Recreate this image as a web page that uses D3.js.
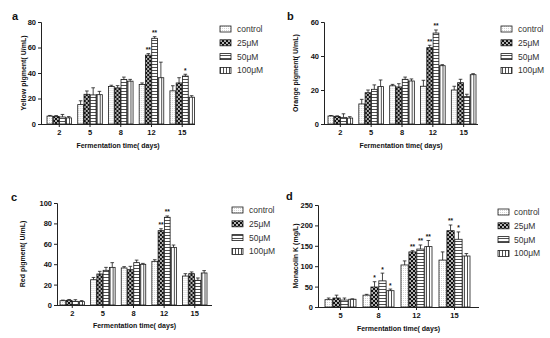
<!DOCTYPE html>
<html>
<head>
<meta charset="utf-8">
<script src="https://cdn.jsdelivr.net/npm/d3@7"></script>
<style>
  body { margin: 0; background: #fff; }
  svg { display: block; font-family: "Liberation Sans", Arial, sans-serif; }
</style>
</head>
<body>
<svg id="fig" width="550" height="338"></svg>
<script>
// groups and series
var series = ['control', '25\u03bcM', '50\u03bcM', '100\u03bcM'];
var daysPigment = ['2', '5', '8', '12', '15'];
var daysMonacolin = ['5', '8', '12', '15'];

// yellow pigment (U/mL), one row per day: control, 25, 50, 100
var yellowMean = [[6.2, 6, 5.5, 4.8], [15.2, 23.3, 22.8, 23], [29.4, 28.3, 35, 33.6], [31, 54, 67.2, 36.3], [26, 32.2, 37.6, 21]];
var yellowSd   = [[0.5, 0.6, 2, 1], [3, 2.6, 5.6, 2.6], [1, 1.8, 1.8, 1.4], [1.2, 1.2, 1.3, 12.2], [4, 4.1, 1.4, 1.2]];
var yellowStars = [['', '', '', ''], ['', '', '', ''], ['', '', '', ''], ['', '**', '**', ''], ['', '', '*', '']];

// orange pigment (U/mL)
var orangeMean = [[4.7, 4.4, 3.9, 3.5], [11.8, 18.4, 20.4, 22], [22.5, 21.8, 26.3, 25.3], [22.2, 44.9, 53.5, 34.3], [20, 24.3, 16.1, 29]];
var orangeSd   = [[0.3, 0.4, 2.1, 0.8], [2.7, 1.6, 2.6, 3.9], [0.8, 1.9, 1.3, 1.2], [3.5, 1.4, 1.8, 0.6], [2.2, 2, 1.4, 0.6]];
var orangeStars = [['', '', '', ''], ['', '', '', ''], ['', '', '', ''], ['', '**', '**', ''], ['', '', '', '']];

// red pigment (U/mL)
var redMean = [[4.2, 4.6, 3.6, 3.3], [24.8, 30.4, 34, 36.9], [36.3, 34.6, 41.5, 39.9], [42.8, 72.9, 86, 56.5], [28.4, 30.7, 24.2, 31.4]];
var redSd   = [[0.6, 0.8, 1.6, 1], [2.2, 2.6, 2.9, 4.6], [1.3, 3.3, 2.5, 0.9], [1.6, 1.9, 1.3, 2.3], [2.3, 1.7, 2.3, 2.3]];
var redStars = [['', '', '', ''], ['', '', '', ''], ['', '', '', ''], ['', '**', '**', ''], ['', '', '', '']];

// monacolin K (mg/L)
var monaMean = [[18, 22, 17, 19], [29, 49, 64, 40], [103, 135, 142, 148], [115, 187, 166, 125]];
var monaSd   = [[4, 7, 5, 1], [2, 13, 19, 4], [10, 3, 10, 15], [20, 14, 18, 6]];
var monaStars = [['', '', '', ''], ['', '*', '*', '*'], ['', '**', '**', '**'], ['', '**', '*', '']];

var panels = [
  { tag: 'a', days: daysPigment, mean: yellowMean, sd: yellowSd, stars: yellowStars,
    yLabel: 'Yellow pigment( U/mL)', yMax: 80, yStep: 20,
    left: 41, top: 22, bottom: 124, axisLen: 154, band: [6, 153.5], pad: 0.2,
    yLabelX: 24, titleX: 12, titleY: 20, legX: 220, legTextX: 237, legY: 29, xLabelY: 148 },
  { tag: 'b', days: daysPigment, mean: orangeMean, sd: orangeSd, stars: orangeStars,
    yLabel: 'Orange pigment( U/mL)', yMax: 60, yStep: 20,
    left: 324, top: 22, bottom: 124, axisLen: 154, band: [4, 152], pad: 0.2,
    yLabelX: 296, titleX: 287, titleY: 20, legX: 501, legTextX: 518, legY: 29, xLabelY: 148 },
  { tag: 'c', days: daysPigment, mean: redMean, sd: redSd, stars: redStars,
    yLabel: 'Red pigment( U/mL)', yMax: 100, yStep: 20,
    left: 57, top: 203, bottom: 305, axisLen: 155, band: [3, 150], pad: 0.2,
    yLabelX: 23, titleX: 11, titleY: 201, legX: 232, legTextX: 249, legY: 210, xLabelY: 328 },
  { tag: 'd', days: daysMonacolin, mean: monaMean, sd: monaSd, stars: monaStars,
    yLabel: 'Monacolin K (mg/L)', yMax: 250, yStep: 50,
    left: 318, top: 205, bottom: 307, axisLen: 161, band: [7, 152], pad: 0.184,
    yLabelX: 296, titleX: 286, titleY: 200, legX: 498, legTextX: 514, legY: 212, xLabelY: 331 }
];

var svg = d3.select('#fig');
var defs = svg.append('defs');

// fill patterns for the four treatments
var p0 = defs.append('pattern').attr('id', 'pat0').attr('patternUnits', 'userSpaceOnUse')
  .attr('width', 2).attr('height', 2);
p0.append('rect').attr('width', 2).attr('height', 2).attr('fill', '#fff');
p0.append('rect').attr('width', 1).attr('height', 1).attr('fill', '#d4d4d4');

var p1 = defs.append('pattern').attr('id', 'pat1').attr('patternUnits', 'userSpaceOnUse')
  .attr('width', 4).attr('height', 4);
p1.append('rect').attr('width', 4).attr('height', 4).attr('fill', '#111');
p1.append('circle').attr('cx', 1).attr('cy', 1).attr('r', 0.9).attr('fill', '#fff');
p1.append('circle').attr('cx', 3).attr('cy', 3).attr('r', 0.9).attr('fill', '#fff');

var p2 = defs.append('pattern').attr('id', 'pat2').attr('patternUnits', 'userSpaceOnUse')
  .attr('width', 3).attr('height', 3);
p2.append('rect').attr('width', 3).attr('height', 3).attr('fill', '#fff');
p2.append('line').attr('x1', 0).attr('x2', 3).attr('y1', 1.5).attr('y2', 1.5)
  .attr('stroke', '#222').attr('stroke-width', 0.8);

var p3 = defs.append('pattern').attr('id', 'pat3').attr('patternUnits', 'userSpaceOnUse')
  .attr('width', 3).attr('height', 3);
p3.append('rect').attr('width', 3).attr('height', 3).attr('fill', '#fff');
p3.append('line').attr('y1', 0).attr('y2', 3).attr('x1', 1.5).attr('x2', 1.5)
  .attr('stroke', '#222').attr('stroke-width', 0.8);

panels.forEach(function(p) {
  var g = svg.append('g').attr('transform', 'translate(' + p.left + ',0)');

  var y = d3.scaleLinear().domain([0, p.yMax]).range([p.bottom, p.top]);
  var x = d3.scaleBand().domain(p.days).range(p.band).paddingInner(p.pad).paddingOuter(0);
  var xs = d3.scaleBand().domain(d3.range(series.length)).range([0, x.bandwidth()]).paddingInner(0.08);

  // bars
  p.days.forEach(function(day, i) {
    var grp = g.append('g').attr('transform', 'translate(' + x(day) + ',0)');
    series.forEach(function(s, j) {
      var m = p.mean[i][j], e = p.sd[i][j];
      var bx = xs(j), bw = xs.bandwidth();
      grp.append('rect')
        .attr('x', bx).attr('y', y(m))
        .attr('width', bw).attr('height', y(0) - y(m))
        .attr('fill', 'url(#pat' + j + ')')
        .attr('stroke', '#1a1a1a').attr('stroke-width', 0.8);
      var cx = bx + bw / 2;
      grp.append('line').attr('x1', cx).attr('x2', cx).attr('y1', y(m)).attr('y2', y(m + e))
        .attr('stroke', '#1a1a1a').attr('stroke-width', 0.8);
      grp.append('line').attr('x1', cx - 1.8).attr('x2', cx + 1.8).attr('y1', y(m + e)).attr('y2', y(m + e))
        .attr('stroke', '#1a1a1a').attr('stroke-width', 0.8);
      if (p.stars[i][j]) {
        grp.append('text').attr('x', cx).attr('y', y(m + e) - 1.5)
          .attr('text-anchor', 'middle').attr('font-size', 6.5).attr('font-weight', 'bold')
          .attr('fill', '#111').text(p.stars[i][j]);
      }
    });
  });

  // y axis
  var yAxis = d3.axisLeft(y).tickValues(d3.range(0, p.yMax + 1, p.yStep)).tickSize(3).tickPadding(2);
  var ya = g.append('g').call(yAxis);
  ya.select('.domain').attr('stroke', '#222').attr('stroke-width', 1);
  ya.selectAll('.tick line').attr('stroke', '#222');
  ya.selectAll('text').attr('font-size', 7.5).attr('font-weight', 'bold').attr('fill', '#111')
    .attr('font-family', '"Liberation Sans", Arial, sans-serif');

  // x axis
  var xa = g.append('g').attr('transform', 'translate(0,' + p.bottom + ')')
    .call(d3.axisBottom(x).tickSize(3).tickPadding(3).tickSizeOuter(0));
  xa.select('.domain').attr('d', 'M0,0.5H' + p.axisLen).attr('stroke', '#222').attr('stroke-width', 1);
  xa.selectAll('.tick line').attr('stroke', '#222');
  xa.selectAll('text').attr('font-size', 7.5).attr('font-weight', 'bold').attr('fill', '#111')
    .attr('font-family', '"Liberation Sans", Arial, sans-serif');

  // axis titles
  svg.append('text').attr('x', p.left + p.axisLen / 2).attr('y', p.xLabelY)
    .attr('text-anchor', 'middle').attr('font-size', 7).attr('font-weight', 'bold').attr('fill', '#111')
    .text('Fermentation time( days)');
  svg.append('text')
    .attr('transform', 'translate(' + p.yLabelX + ',' + ((p.top + p.bottom) / 2) + ') rotate(-90)')
    .attr('text-anchor', 'middle').attr('dy', '0.35em')
    .attr('font-size', 7).attr('font-weight', 'bold').attr('fill', '#111')
    .text(p.yLabel);

  // panel letter
  svg.append('text').attr('x', p.titleX).attr('y', p.titleY)
    .attr('font-size', 11).attr('font-weight', 'bold').attr('fill', '#111').text(p.tag);

  // legend
  series.forEach(function(s, j) {
    var ly = p.legY + j * 13.8;
    svg.append('rect').attr('x', p.legX).attr('y', ly - 3).attr('width', 11).attr('height', 6)
      .attr('fill', 'url(#pat' + j + ')').attr('stroke', '#1a1a1a').attr('stroke-width', 0.8);
    svg.append('text').attr('x', p.legTextX).attr('y', ly).attr('dy', '0.35em')
      .attr('font-size', 8.5).attr('fill', '#333').text(s);
  });
});
</script>
</body>
</html>
